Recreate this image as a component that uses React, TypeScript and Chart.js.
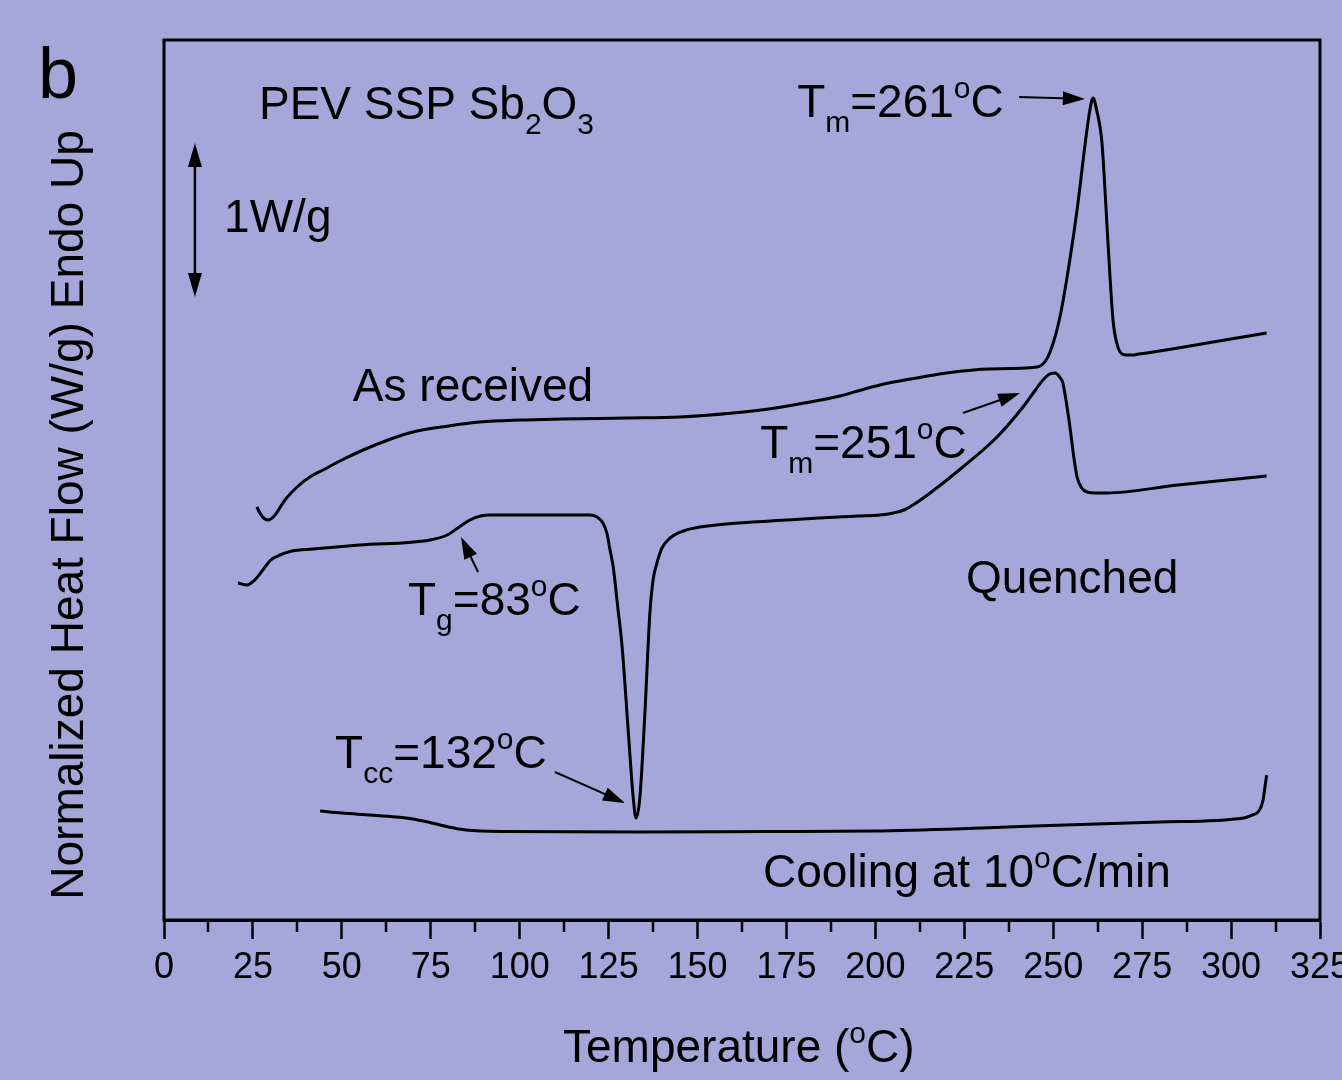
import React, { useEffect, useRef } from "react";
import { Chart, registerables } from "chart.js";

Chart.register(...registerables);

// ---- Data (temperature in °C, heat flow in arbitrary display units, endo up) ----
const asReceivedT = [26.1, 27.5, 29.2, 31, 34, 37.4, 41, 44.7, 50, 56, 63, 70, 80, 88.8, 100, 112, 130, 145, 160, 170, 180, 190, 196, 201.3, 210, 220, 232, 245.4, 248, 250, 252, 253.9, 256.7, 259, 260.3, 261.2, 262.2, 263.7, 265.4, 266.8, 268, 268.8, 270.5, 272.4, 274, 276.3, 290, 310];
const asReceivedY = [413, 404, 400, 404, 420, 433, 443, 450, 460, 470, 480, 488, 494, 498, 500, 501, 502, 503, 507, 511, 517, 524, 530, 535, 541, 547, 551, 553, 560, 577, 605, 643, 710, 777, 810, 822, 810, 777, 677, 600, 575, 568, 565, 565, 566, 567, 575, 587];

const quenchedT = [20.8, 23.3, 25.5, 27.8, 30, 32.6, 36, 41.9, 55, 74.8, 79.6, 83, 86, 89, 91.7, 105, 117, 119.8, 121.7, 123.4, 124.5, 125.4, 126.3, 127.5, 128.8, 130.5, 131.9, 132.7, 133.8, 135.2, 136.6, 137.5, 138.6, 140, 142.3, 146, 150.7, 175, 195, 201.3, 205, 208, 211, 215.4, 224.6, 234.2, 241.5, 245, 247.1, 249, 250.5, 251.8, 252.7, 253.8, 254.7, 255.7, 256.7, 258, 259.5, 262, 265.1, 285, 310];
const quenchedY = [337, 335, 340, 350, 360, 365, 369, 371, 375, 380, 385, 393, 400, 404, 405, 405, 405, 405, 403, 397, 387, 370, 353, 315, 273, 190, 123, 102, 123, 207, 307, 340, 357, 372, 382, 389, 393, 400, 404, 405, 407, 410, 416, 427, 453, 483, 513, 530, 540, 546, 547, 543, 537, 515, 493, 465, 443, 432, 428, 427, 427, 435, 444];

const coolingT = [43.9, 50, 58, 65.2, 70, 74.2, 80, 84.9, 95, 133, 170, 199.6, 230, 253.3, 280, 303.6, 306, 307.3, 308.3, 309, 309.6, 310];
const coolingY = [109, 107, 105, 103, 101, 98, 93, 90, 88.5, 88, 88.5, 89, 92, 95, 98, 102, 105, 107, 112, 120, 135, 145];

const xTickStep = 25;
const xMin = 0;
const xMax = 325;

const BG = "rgb(166,166,218)";
const FONT = "'Liberation Sans', Arial, sans-serif";

type Seg = { t: string; sub?: boolean; sup?: boolean };

// annotation text (data coordinates of left/baseline)
const labels: { x: number; y: number; segs: Seg[] }[] = [
  { x: 26.7, y: 801, segs: [{ t: "PEV SSP Sb" }, { t: "2", sub: true }, { t: "O" }, { t: "3", sub: true }] },
  { x: 16.9, y: 688, segs: [{ t: "1W/g" }] },
  { x: 178.0, y: 803, segs: [{ t: "T" }, { t: "m", sub: true }, { t: "=261" }, { t: "o", sup: true }, { t: "C" }] },
  { x: 53.1, y: 519, segs: [{ t: "As received" }] },
  { x: 167.6, y: 462, segs: [{ t: "T" }, { t: "m", sub: true }, { t: "=251" }, { t: "o", sup: true }, { t: "C" }] },
  { x: 225.5, y: 327, segs: [{ t: "Quenched" }] },
  { x: 68.6, y: 305, segs: [{ t: "T" }, { t: "g", sub: true }, { t: "=83" }, { t: "o", sup: true }, { t: "C" }] },
  { x: 48.1, y: 152, segs: [{ t: "T" }, { t: "cc", sub: true }, { t: "=132" }, { t: "o", sup: true }, { t: "C" }] },
  { x: 168.4, y: 33, segs: [{ t: "Cooling at 10" }, { t: "o", sup: true }, { t: "C/min" }] },
];

// arrows (from -> to, data coordinates)
const arrows: { x1: number; y1: number; x2: number; y2: number }[] = [
  { x1: 240.4, y1: 823, x2: 258.9, y2: 821 },
  { x1: 224.6, y1: 507, x2: 240.7, y2: 527 },
  { x1: 88.3, y1: 348, x2: 83.5, y2: 383 },
  { x1: 109.9, y1: 148, x2: 129.6, y2: 117 },
];
// 1 W/g scale bar
const scaleBar = { x: 8.7, y1: 777, y2: 623 };

function drawRich(ctx: CanvasRenderingContext2D, segs: Seg[], x: number, y: number, size: number) {
  let cx = x;
  const small = Math.round(size * 0.65);
  for (const s of segs) {
    if (s.sub) {
      ctx.font = `${small}px ${FONT}`;
      ctx.fillText(s.t, cx, y + size * 0.33);
    } else if (s.sup) {
      ctx.font = `${small}px ${FONT}`;
      ctx.fillText(s.t, cx, y - size * 0.41);
    } else {
      ctx.font = `${size}px ${FONT}`;
      ctx.fillText(s.t, cx, y);
    }
    cx += ctx.measureText(s.t).width;
  }
}

function arrowHead(ctx: CanvasRenderingContext2D, x1: number, y1: number, x2: number, y2: number, len: number, half: number) {
  const a = Math.atan2(y2 - y1, x2 - x1);
  ctx.beginPath();
  ctx.moveTo(x2, y2);
  ctx.lineTo(x2 - len * Math.cos(a) + half * Math.sin(a), y2 - len * Math.sin(a) - half * Math.cos(a));
  ctx.lineTo(x2 - len * Math.cos(a) - half * Math.sin(a), y2 - len * Math.sin(a) + half * Math.cos(a));
  ctx.closePath();
  ctx.fill();
}

const decorPlugin = {
  id: "decor",
  beforeDraw(chart: any) {
    const ctx = chart.ctx;
    ctx.save();
    ctx.fillStyle = BG;
    ctx.fillRect(0, 0, chart.width, chart.height);
    ctx.restore();
  },
  afterDraw(chart: any) {
    const ctx: CanvasRenderingContext2D = chart.ctx;
    const xs = chart.scales.x;
    const ys = chart.scales.y;
    const a = chart.chartArea;
    ctx.save();
    ctx.fillStyle = "#000";
    ctx.strokeStyle = "#000";

    // frame
    ctx.lineWidth = 3;
    ctx.strokeRect(a.left, a.top, a.right - a.left, a.bottom - a.top);

    // minor ticks
    ctx.lineWidth = 2.5;
    for (let v = xMin + xTickStep / 2; v < xMax; v += xTickStep) {
      const px = Math.round(xs.getPixelForValue(v));
      ctx.beginPath();
      ctx.moveTo(px, a.bottom);
      ctx.lineTo(px, a.bottom + 12);
      ctx.stroke();
    }

    // annotations
    ctx.textBaseline = "alphabetic";
    ctx.textAlign = "left";
    for (const l of labels) {
      drawRich(ctx, l.segs, xs.getPixelForValue(l.x), ys.getPixelForValue(l.y), 46);
    }

    // arrows
    ctx.lineWidth = 2;
    for (const ar of arrows) {
      const x1 = xs.getPixelForValue(ar.x1), y1 = ys.getPixelForValue(ar.y1);
      const x2 = xs.getPixelForValue(ar.x2), y2 = ys.getPixelForValue(ar.y2);
      const ang = Math.atan2(y2 - y1, x2 - x1);
      ctx.beginPath();
      ctx.moveTo(x1, y1);
      ctx.lineTo(x2 - 15 * Math.cos(ang), y2 - 15 * Math.sin(ang));
      ctx.stroke();
      arrowHead(ctx, x1, y1, x2, y2, 22, 7);
    }

    // scale bar double arrow
    const bx = xs.getPixelForValue(scaleBar.x);
    const by1 = ys.getPixelForValue(scaleBar.y1);
    const by2 = ys.getPixelForValue(scaleBar.y2);
    ctx.lineWidth = 2.5;
    ctx.beginPath();
    ctx.moveTo(bx, by1 + 15);
    ctx.lineTo(bx, by2 - 15);
    ctx.stroke();
    arrowHead(ctx, bx, by2, bx, by1, 24, 7);
    arrowHead(ctx, bx, by1, bx, by2, 24, 7);

    // panel letter
    ctx.font = `72px ${FONT}`;
    ctx.fillText("b", 38, 98);

    // x title
    drawRich(ctx, [{ t: "Temperature (" }, { t: "o", sup: true }, { t: "C)" }], 563, 1062, 46);

    // y title
    ctx.save();
    ctx.translate(83, 515);
    ctx.rotate(-Math.PI / 2);
    ctx.textAlign = "center";
    ctx.font = `46px ${FONT}`;
    ctx.fillText("Normalized Heat Flow (W/g) Endo Up", 0, 0);
    ctx.restore();

    ctx.restore();
  },
};

function toPts(xs: number[], ys: number[]) {
  return xs.map((x, i) => ({ x, y: ys[i] }));
}

export default function App() {
  const ref = useRef<HTMLCanvasElement | null>(null);
  useEffect(() => {
    document.body.style.margin = "0";
    document.body.style.background = BG;
    const canvas = ref.current!;
    const line = (label: string, data: any[]) => ({
      label,
      data,
      borderColor: "#000",
      borderWidth: 3,
      pointRadius: 0,
      fill: false,
      cubicInterpolationMode: "monotone" as const,
    });
    const chart = new Chart(canvas, {
      type: "line",
      data: {
        datasets: [
          line("As received", toPts(asReceivedT, asReceivedY)),
          line("Quenched", toPts(quenchedT, quenchedY)),
          line("Cooling at 10°C/min", toPts(coolingT, coolingY)),
        ],
      },
      options: {
        animation: false,
        responsive: false,
        devicePixelRatio: 1,
        layout: { padding: { left: 164, right: 22, top: 40, bottom: 0 } },
        plugins: { legend: { display: false }, tooltip: { enabled: false } },
        scales: {
          x: {
            type: "linear",
            min: xMin,
            max: xMax,
            position: "bottom",
            ticks: {
              stepSize: xTickStep,
              autoSkip: false,
              maxRotation: 0,
              padding: 7,
              color: "#000",
              font: { family: FONT, size: 36 },
            },
            grid: {
              drawOnChartArea: false,
              drawTicks: true,
              tickLength: 19,
              tickWidth: 2.5,
              tickColor: "#000",
            },
            border: { display: true, color: "#000", width: 3 },
            afterFit: (s: any) => {
              s.height = 160;
              s.paddingLeft = 0;
              s.paddingRight = 0;
            },
          },
          y: {
            type: "linear",
            min: 0,
            max: 880,
            display: false,
          },
        },
      },
      plugins: [decorPlugin],
    });
    return () => chart.destroy();
  }, []);
  return (
    <div style={{ width: 1342, height: 1080, background: BG }}>
      <canvas ref={ref} width={1342} height={1080} style={{ display: "block", width: 1342, height: 1080 }} />
    </div>
  );
}
